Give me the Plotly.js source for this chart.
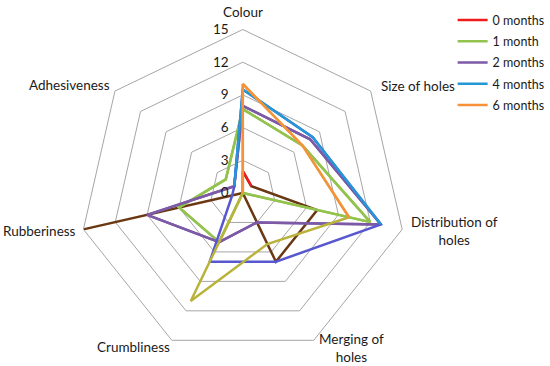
<!DOCTYPE html>
<html>
<head>
<meta charset="utf-8">
<script src="https://cdn.plot.ly/plotly-3.0.1.min.js"></script>
<style>html,body{margin:0;padding:0;background:#fff;}#chart{width:550px;height:366px;}</style>
</head>
<body>
<div id="chart"></div>
<script>
// Categories (spokes, clockwise from top)
var categories = ["Colour", "Size of holes", "Distribution of holes", "Merging of holes", "Crumbliness", "Rubberiness", "Adhesiveness"];
var categoryLabels = ["Colour", "Size of holes", "Distribution of<br>holes", "Merging of<br>holes", "Crumbliness", "Rubberiness", "Adhesiveness"];

// Series values (same order as categories)
var months0 = [2, 1, 7, 7, 0, 15, 0];
var months1 = [7.7, 7, 12, 0, 5, 6, 2];
var months2 = [8, 7.9, 13, 3, 5, 9, 1];
var months4 = [9.5, 8.2, 13, 7, 7, 1, 1];
var months6 = [10, 7, 10, 5.2, 11, 0, 0];

var seriesNames = ["0 months", "1 month", "2 months", "4 months", "6 months"];
var radialTicks = [0, 3, 6, 9, 12, 15];

var seriesData = [months0, months1, months2, months4, months6];
var mainColors = ["#ee1c1c", "#92c34c", "#7d5aa6", "#2596d6", "#f7923a"];
var lowerColors = ["#6a3812", "#96ba48", "#7656a8", "#5757cf", "#b9b33c"];
// spokes drawn in the main colour (the rest is drawn in the lower colour)
var upperIdx = [[0, 1], null, null, [6, 0, 1, 2], [6, 0, 1, 2]];

var FONT = "Lato, 'Open Sans', sans-serif";
var W = 550, H = 366;
var RMAX = 15;

var traces = [];
seriesData.forEach(function (vals, s) {
  var th = categories.concat([categories[0]]);
  var rr = vals.concat([vals[0]]);
  traces.push({
    type: "scatterpolar", mode: "lines", r: rr, theta: th, legendgroup: "g" + s,
    line: {color: lowerColors[s], width: 2.5}, showlegend: false, hoverinfo: "skip"
  });
  var idx = upperIdx[s] || [0, 1, 2, 3, 4, 5, 6, 0];
  traces.push({
    type: "scatterpolar", mode: "lines", name: seriesNames[s], legendgroup: "g" + s,
    r: idx.map(function (i) { return vals[i]; }),
    theta: idx.map(function (i) { return categories[i]; }),
    line: {color: mainColors[s], width: 2.5}, showlegend: true, hoverinfo: "skip"
  });
});

var domX = [0.1455, 0.7455], domY = [0.0219, 0.9235];
// category label annotations, placed at each spoke end (computed from the polar domain)
var cxPx = (domX[0] + domX[1]) / 2 * W;
var cyPx = (1 - (domY[0] + domY[1]) / 2) * H;
var Rpx = Math.min((domX[1] - domX[0]) * W, (domY[1] - domY[0]) * H) / 2;
var labelShift = [[0, 16], [8, 4], [7, -1], [3, -6], [0, -5], [-5, -1], [-3, 5]];
var annotations = categories.map(function (c, k) {
  var a = (90 - k * 360 / categories.length) * Math.PI / 180;
  var cs = Math.cos(a);
  var px = cxPx + Rpx * cs, py = cyPx - Rpx * Math.sin(a);
  return {
    xref: "paper", yref: "paper", x: px / W, y: 1 - py / H,
    text: categoryLabels[k], showarrow: false, align: "center",
    xanchor: Math.abs(cs) < 0.1 ? "center" : (cs > 0 ? "left" : "right"), yanchor: "middle",
    xshift: labelShift[k][0], yshift: labelShift[k][1],
    font: {family: FONT, size: 13.5, color: "#1a1a1a"}
  };
});

var layout = {
  width: W, height: H,
  margin: {l: 0, r: 0, t: 0, b: 0},
  paper_bgcolor: "#ffffff",
  font: {family: FONT, size: 13, color: "#1a1a1a"},
  showlegend: true,
  legend: {x: 0.8305, y: 0.985, xanchor: "left", yanchor: "top", traceorder: "grouped", tracegroupgap: 2,
    font: {family: FONT, size: 12.5, color: "#1a1a1a"}, bgcolor: "rgba(0,0,0,0)"},
  annotations: annotations,
  polar: {
    domain: {x: domX, y: domY},
    gridshape: "linear",
    bgcolor: "#ffffff",
    angularaxis: {
      type: "category", categoryarray: categories, direction: "clockwise", rotation: 90,
      showticklabels: false,
      showgrid: false, showline: true, linecolor: "#a6a6a6", linewidth: 1, ticks: ""
    },
    radialaxis: {
      range: [0, RMAX], tickmode: "array", tickvals: radialTicks, ticktext: radialTicks.map(String),
      angle: 90, side: "counterclockwise", tickangle: 90,
      showline: false, ticks: "outside", ticklen: 9, tickcolor: "rgba(0,0,0,0)",
      gridcolor: "#a6a6a6", gridwidth: 1,
      tickfont: {family: FONT, size: 13.5, color: "#1a1a1a"}
    }
  }
};

Plotly.newPlot("chart", traces, layout, {displayModeBar: false, staticPlot: true});
</script>
</body>
</html>
